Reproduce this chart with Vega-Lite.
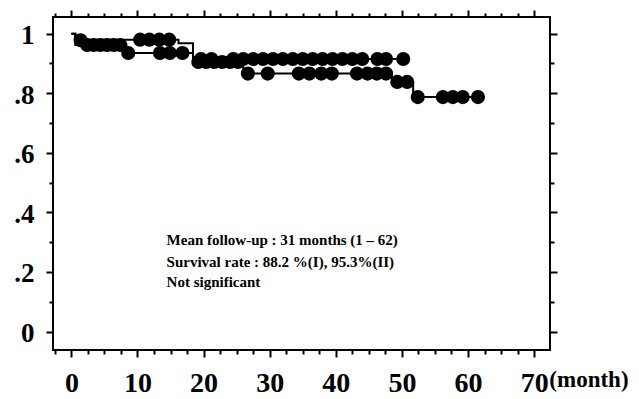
{
  "$schema": "https://vega.github.io/schema/vega-lite/v6.json",
  "width": 497,
  "height": 333,
  "autosize": "none",
  "padding": {"left": 53, "top": 17, "right": 89, "bottom": 49},
  "background": "white",
  "config": {
    "view": {"stroke": "black", "strokeWidth": 2},
    "axis": {
      "domain": false,
      "grid": false,
      "title": null,
      "tickColor": "black",
      "tickWidth": 2,
      "labelFont": "Liberation Serif",
      "labelFontWeight": "bold",
      "labelColor": "black"
    }
  },
  "datasets": {
    "curve": [
      {"g": "A", "t": 0, "s": 1},
      {"g": "A", "t": 0.6, "s": 0.962},
      {"g": "A", "t": 8.3, "s": 0.935},
      {"g": "A", "t": 18.4, "s": 0.905},
      {"g": "A", "t": 26, "s": 0.866},
      {"g": "A", "t": 48.5, "s": 0.838},
      {"g": "A", "t": 51.7, "s": 0.787},
      {"g": "A", "t": 61.5, "s": 0.787},
      {"g": "B", "t": 0, "s": 1},
      {"g": "B", "t": 0.6, "s": 0.98},
      {"g": "B", "t": 16.2, "s": 0.968},
      {"g": "B", "t": 18.4, "s": 0.915},
      {"g": "B", "t": 50.3, "s": 0.915}
    ],
    "cens": [
      {"g": "B", "t": 1.4, "s": 0.978},
      {"g": "A", "t": 2.4, "s": 0.962},
      {"g": "A", "t": 3.4, "s": 0.962},
      {"g": "A", "t": 4.4, "s": 0.962},
      {"g": "A", "t": 5.4, "s": 0.962},
      {"g": "A", "t": 6.4, "s": 0.962},
      {"g": "A", "t": 7.4, "s": 0.962},
      {"g": "A", "t": 8.6, "s": 0.935},
      {"g": "B", "t": 10.4, "s": 0.98},
      {"g": "B", "t": 11.8, "s": 0.98},
      {"g": "B", "t": 13.3, "s": 0.98},
      {"g": "B", "t": 14.8, "s": 0.98},
      {"g": "A", "t": 13.4, "s": 0.935},
      {"g": "A", "t": 14.9, "s": 0.935},
      {"g": "A", "t": 16.8, "s": 0.935},
      {"g": "A", "t": 19.2, "s": 0.905},
      {"g": "A", "t": 20.4, "s": 0.905},
      {"g": "A", "t": 21.6, "s": 0.905},
      {"g": "A", "t": 22.8, "s": 0.905},
      {"g": "A", "t": 24.0, "s": 0.905},
      {"g": "A", "t": 25.2, "s": 0.905},
      {"g": "A", "t": 26.7, "s": 0.866},
      {"g": "A", "t": 29.7, "s": 0.866},
      {"g": "A", "t": 34.4, "s": 0.866},
      {"g": "A", "t": 36.0, "s": 0.866},
      {"g": "A", "t": 37.8, "s": 0.866},
      {"g": "A", "t": 39.4, "s": 0.866},
      {"g": "A", "t": 43.2, "s": 0.866},
      {"g": "A", "t": 44.8, "s": 0.866},
      {"g": "A", "t": 46.2, "s": 0.866},
      {"g": "A", "t": 47.6, "s": 0.866},
      {"g": "A", "t": 49.3, "s": 0.838},
      {"g": "A", "t": 50.8, "s": 0.838},
      {"g": "A", "t": 52.4, "s": 0.787},
      {"g": "A", "t": 56.2, "s": 0.787},
      {"g": "A", "t": 57.7, "s": 0.787},
      {"g": "A", "t": 59.2, "s": 0.787},
      {"g": "A", "t": 61.5, "s": 0.787},
      {"g": "B", "t": 19.6, "s": 0.915},
      {"g": "B", "t": 21.2, "s": 0.915},
      {"g": "B", "t": 24.5, "s": 0.915},
      {"g": "B", "t": 26.0, "s": 0.915},
      {"g": "B", "t": 27.5, "s": 0.915},
      {"g": "B", "t": 29.0, "s": 0.915},
      {"g": "B", "t": 30.5, "s": 0.915},
      {"g": "B", "t": 32.0, "s": 0.915},
      {"g": "B", "t": 33.5, "s": 0.915},
      {"g": "B", "t": 35.0, "s": 0.915},
      {"g": "B", "t": 36.5, "s": 0.915},
      {"g": "B", "t": 38.0, "s": 0.915},
      {"g": "B", "t": 39.5, "s": 0.915},
      {"g": "B", "t": 41.0, "s": 0.915},
      {"g": "B", "t": 42.5, "s": 0.915},
      {"g": "B", "t": 44.0, "s": 0.915},
      {"g": "B", "t": 46.3, "s": 0.915},
      {"g": "B", "t": 47.6, "s": 0.915},
      {"g": "B", "t": 50.2, "s": 0.915}
    ],
    "notes": [
      {"t": 14.4, "s": 0.2905, "label": "Mean follow-up : 31 months (1 – 62)"},
      {"t": 14.4, "s": 0.2166, "label": "Survival rate : 88.2 %(I), 95.3%(II)"},
      {"t": 14.4, "s": 0.1494, "label": "Not significant"}
    ],
    "unit": [
      {"t": 72.3, "s": -0.185, "label": "(month)"}
    ]
  },
  "layer": [
    {
      "data": {"name": "curve"},
      "mark": {"type": "line", "interpolate": "step-after", "color": "black", "strokeWidth": 2, "clip": true},
      "encoding": {
        "x": {"field": "t", "type": "quantitative",
          "scale": {"domain": [-2.78, 72.4], "nice": false, "zero": false},
          "axis": {"orient": "bottom", "values": [0, 10, 20, 30, 40, 50, 60, 70], "tickSize": 7, "labelFontSize": 28, "labelPadding": 12, "labelFlush": false}},
        "y": {"field": "s", "type": "quantitative",
          "scale": {"domain": [-0.062, 1.056], "nice": false, "zero": false},
          "axis": {"orient": "left", "values": [0, 0.2, 0.4, 0.6, 0.8, 1], "tickSize": 7, "labelFontSize": 27, "labelPadding": 12, "labelFlush": false, "labelOffset": 2,
            "labelExpr": "replace(format(datum.value, '.1~f'), '0.', '.')"}},
        "detail": {"field": "g"}
      }
    },
    {
      "data": {"name": "cens"},
      "mark": {"type": "circle", "color": "black", "opacity": 1, "size": 200},
      "encoding": {
        "x": {"field": "t", "type": "quantitative",
          "axis": {"orient": "top", "values": [0, 10, 20, 30, 40, 50, 60, 70], "tickSize": 7, "labels": false}},
        "y": {"field": "s", "type": "quantitative",
          "axis": {"orient": "right", "values": [0, 0.2, 0.4, 0.6, 0.8, 1], "tickSize": 7, "labels": false}}
      }
    },
    {
      "data": {"name": "notes"},
      "mark": {"type": "text", "align": "left", "baseline": "alphabetic", "font": "Liberation Serif", "fontWeight": "bold", "fontSize": 15, "color": "black"},
      "encoding": {
        "x": {"field": "t", "type": "quantitative",
          "axis": {"orient": "bottom", "values": [-2.5, 2.5, 5, 7.5, 12.5, 15, 17.5, 22.5, 25, 27.5, 32.5, 35, 37.5, 42.5, 45, 47.5, 52.5, 55, 57.5, 62.5, 65, 67.5, 72.5], "tickSize": 4, "labels": false}},
        "y": {"field": "s", "type": "quantitative",
          "axis": {"orient": "left", "values": [0.1, 0.3, 0.5, 0.7, 0.9], "tickSize": 4, "labels": false}},
        "text": {"field": "label"}
      }
    },
    {
      "data": {"name": "unit"},
      "mark": {"type": "text", "align": "left", "baseline": "alphabetic", "font": "Liberation Serif", "fontWeight": "bold", "fontSize": 23, "color": "black", "clip": false},
      "encoding": {
        "x": {"field": "t", "type": "quantitative",
          "axis": {"orient": "top", "values": [-2.5, 2.5, 5, 7.5, 12.5, 15, 17.5, 22.5, 25, 27.5, 32.5, 35, 37.5, 42.5, 45, 47.5, 52.5, 55, 57.5, 62.5, 65, 67.5, 72.5], "tickSize": 4, "labels": false}},
        "y": {"field": "s", "type": "quantitative",
          "axis": {"orient": "right", "values": [0.1, 0.3, 0.5, 0.7, 0.9], "tickSize": 4, "labels": false}},
        "text": {"field": "label"}
      }
    }
  ]
}
